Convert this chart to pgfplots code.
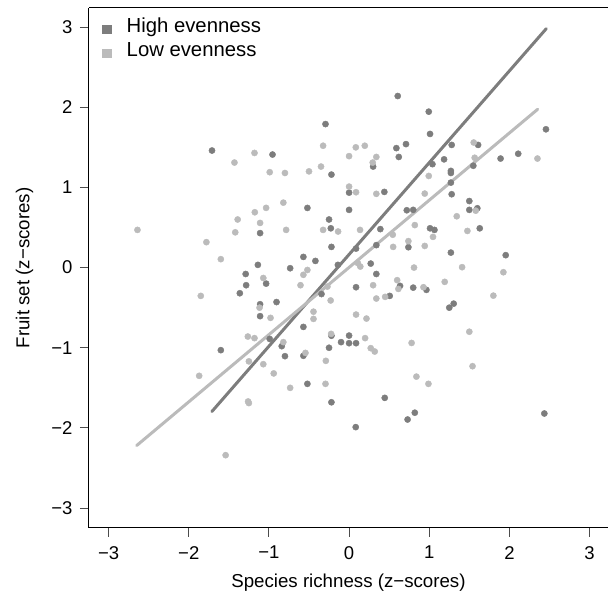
\documentclass[border=0pt]{standalone}
\usepackage{fontspec}
\setmainfont{Liberation Sans}
\usepackage{pgfplots}
\pgfplotsset{compat=1.18}
\definecolor{hiev}{RGB}{125,125,125}
\definecolor{loev}{RGB}{187,187,187}

\begin{document}
\begin{tikzpicture}
\begin{axis}[
    at={(0,0)}, anchor=south west,
    scale only axis, width=519.3pt, height=520pt,
    xmin=-3.245, xmax=3.23, ymin=-3.245, ymax=3.238,
    clip=false,
    axis x line*=bottom, axis y line*=left,
    axis line style={-, black, line width=1pt},
    xtick={-3,-2,-1,0,1,2,3}, ytick={-3,-2,-1,0,1,2,3},
    xticklabels={−3,−2,−1,0,1,2,3},
    yticklabels={−3,−2,−1,0,1,2,3},
    tick align=outside, major tick length=9pt,
    tick style={black!70, line width=0.9pt},
    tick label style={font=\fontsize{18.5}{22}\selectfont},
    xticklabel shift=6pt, yticklabel shift=4pt,
    xlabel={Species richness (z−scores)},
    ylabel={Fruit set (z−scores)},
    every axis x label/.style={at={(axis description cs:0.5,0)}, anchor=center, yshift=-55pt,
        font=\fontsize{18.7}{22}\selectfont},
    every axis y label/.style={at={(axis description cs:0,0.5)}, anchor=center, xshift=-64.5pt, rotate=90,
        font=\fontsize{18.7}{22}\selectfont},
    legend style={at={(axis description cs:0,1)}, anchor=north west,
        draw=none, fill=none, inner sep=0pt, xshift=13.3pt, yshift=-16.5pt,
        font=\fontsize{20.3}{23}\selectfont, row sep=14.5pt,
        nodes={inner xsep=2pt, inner ysep=0pt, text height=0.75em, text depth=0.2em},
        /tikz/every odd column/.append style={column sep=13.4pt}},
    legend cell align=left,
]
\addlegendimage{legend image code/.code={\fill[hiev] (0pt,-4pt) rectangle (8.5pt,4pt);}}
\addlegendentry{High evenness}
\addlegendimage{legend image code/.code={\fill[loev] (0pt,-4pt) rectangle (8.5pt,4pt);}}
\addlegendentry{Low evenness}

% high evenness sites
\addplot[only marks, mark=*, mark size=3.1pt, color=hiev, mark options={draw=hiev, fill=hiev}, forget plot] coordinates {
(-1.71,1.46) (-0.955,1.41) (-1.11,0.43) (0.607,2.14) (-0.294,1.79) (0.59,1.49)
(0.71,1.54) (0.62,1.38) (0.30,1.26) (-0.22,1.16) (0,0.935) (0.44,0.944)
(-0.52,0.744) (0,0.72) (0.72,0.715) (0.80,0.72) (-0.25,0.60) (-0.228,0.49)
(0.39,0.48) (0.994,1.945) (2.456,1.725) (1.01,1.667) (1.28,1.53) (1.61,1.53)
(1.04,1.29) (1.185,1.35) (1.55,1.27) (1.89,1.36) (2.11,1.42) (1.27,1.206)
(1.27,1.18) (1.27,1.06) (1.28,0.915) (1.50,0.83) (1.50,0.72) (1.60,0.74)
(1.01,0.49) (1.065,0.47) (1.63,0.49) (-1.138,0.034) (-1.29,-0.08) (-1.284,-0.22)
(-1.035,-0.20) (-1.363,-0.32) (-1.11,-0.457) (-0.905,-0.43) (-1.11,-0.606) (-0.99,-0.89)
(-1.60,-1.03) (-0.84,-0.98) (-0.80,-1.105) (-0.57,-1.10) (-0.52,-1.45) (-0.22,-1.68)
(-0.22,0.258) (0.087,0.237) (0.74,0.254) (0.34,0.28) (-0.57,0.133) (-0.42,0.083)
(-0.735,-0.008) (-0.14,0.034) (0.27,0.05) (0.34,-0.08) (0.087,-0.245) (0.636,-0.228)
(0.80,-0.25) (-0.344,-0.33) (0.507,-0.353) (-0.57,-0.74) (-0.22,-0.85) (0,-0.848)
(-0.10,-0.93) (0,-0.943) (0.087,-0.943) (-0.25,-1.0) (0.445,-1.625) (0.083,-1.99)
(0.73,-1.895) (0.82,-1.81) (2.436,-1.82) (1.25,-0.50) (1.305,-0.45) (1.27,0.187)
(1.954,0.155) (0.965,-0.278)
};

% low evenness sites
\addplot[only marks, mark=*, mark size=3.1pt, color=loev, mark options={draw=loev, fill=loev}, forget plot] coordinates {
(-1.18,1.43) (-1.43,1.31) (-0.99,1.19) (-1.035,0.745) (-1.176,0.69) (-1.39,0.60)
(-1.11,0.557) (-2.64,0.47) (-1.42,0.44) (-0.324,1.52) (0.084,1.50) (0.196,1.52)
(0,1.39) (0.34,1.38) (0.295,1.31) (-0.80,1.18) (-0.50,1.20) (-0.35,1.26)
(0,1.01) (0.087,0.94) (0.34,0.92) (-0.82,0.81) (-0.785,0.47) (-0.324,0.47)
(-0.137,0.45) (0.137,0.47) (0.82,0.53) (1.555,1.56) (1.567,1.37) (2.35,1.36)
(0.994,1.143) (0.944,0.923) (1.58,0.71) (1.343,0.64) (1.476,0.457) (1.047,0.383)
(1.41,0.005) (1.925,-0.058) (1.80,-0.35) (-1.78,0.317) (-1.60,0.105) (-1.07,-0.13)
(-1.85,-0.353) (-1.117,-0.50) (-0.98,-0.627) (-1.263,-0.86) (-1.18,-0.88) (-1.25,-1.17)
(-1.07,-1.205) (-0.94,-1.32) (-1.87,-1.35) (-0.82,-0.93) (-0.735,-1.50) (-1.26,-1.67)
(-1.25,-1.69) (-1.54,-2.34) (-0.294,-1.45) (0.55,0.258) (0.74,0.33) (-0.52,-0.03)
(-0.57,-0.09) (0.11,0.055) (0.14,0.013) (0.81,0.0) (-0.606,-0.22) (-0.27,-0.237)
(0.30,-0.22) (0.60,-0.157) (0.615,-0.266) (-0.23,-0.41) (0.34,-0.386) (0.45,-0.365)
(-0.444,-0.55) (-0.444,-0.64) (0.087,-0.586) (0.217,-0.636) (-0.224,-0.827) (0.20,-0.88)
(-0.544,-1.064) (0.27,-1.005) (0.32,-1.047) (0.78,-0.94) (-0.29,-1.163) (0.84,-1.36)
(1.50,-0.80) (1.54,-1.23) (0.99,-1.45) (0.944,0.27) (1.193,-0.178) (0.928,-0.245)
(0.545,0.41)
};

% fitted lines
\addplot[hiev, line width=3pt, line cap=round, forget plot] coordinates {(-1.712,-1.796) (2.46,2.98)};
\addplot[loev, line width=3pt, line cap=round, forget plot] coordinates {(-2.65,-2.22) (2.353,1.975)};

\draw[black, line width=1pt] (rel axis cs:0,1) -- (rel axis cs:1,1);
\end{axis}
\pgfresetboundingbox
\path[use as bounding box] (-89pt,-67pt) rectangle (519.3pt,528pt);
\end{tikzpicture}
\end{document}
